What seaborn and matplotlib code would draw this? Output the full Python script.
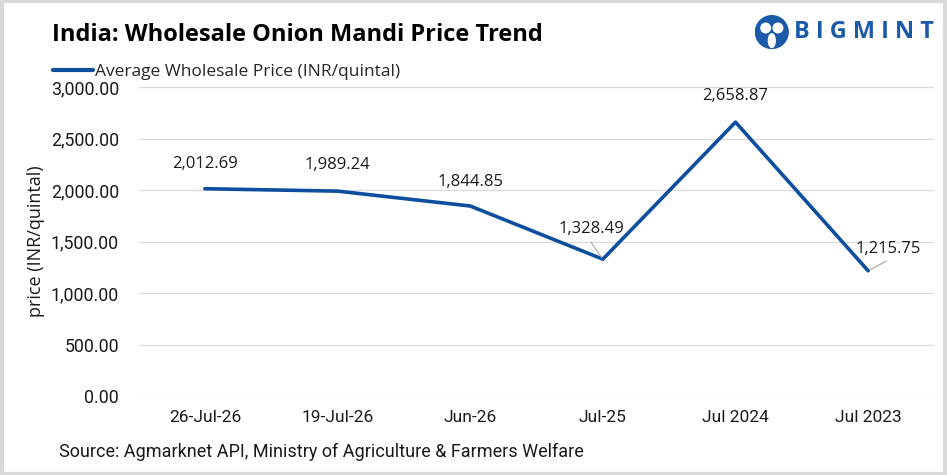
import pandas as pd
import matplotlib.pyplot as plt
import seaborn as sns
from matplotlib.patches import Rectangle, Circle, Ellipse

# chart data
periods = ["26-Jul-26", "19-Jul-26", "Jun-26", "Jul-25", "Jul 2024", "Jul 2023"]
prices = [2012.69, 1989.24, 1844.85, 1328.49, 2658.87, 1215.75]
y_ticks = [0, 500, 1000, 1500, 2000, 2500, 3000]

df = pd.DataFrame({"period": periods, "price": prices})

blue = "#0d4e9e"
grid_gray = "#d9d9d9"

sns.set_theme(style="white")
plt.rcParams["font.family"] = ["Open Sans", "DejaVu Sans"]

fig = plt.figure(figsize=(9.47, 4.75), dpi=100)
ax = fig.add_axes([0.1463, 0.1663, 0.8405, 0.6505])

sns.lineplot(data=df, x="period", y="price", ax=ax, color=blue, linewidth=2.6,
             sort=False, label="Average Wholesale Price (INR/quintal)")

ax.set_xlim(-0.5, len(periods) - 0.5)
ax.set_ylim(0, 3000)
ax.set_yticks(y_ticks)
ax.set_yticklabels([f"{v:,.2f}" for v in y_ticks])
ax.yaxis.grid(True, color=grid_gray, linewidth=0.9)
ax.xaxis.grid(False)
for s in ax.spines.values():
    s.set_visible(False)
ax.tick_params(axis="both", length=0, colors="#1a1a1a")
ax.tick_params(axis="y", pad=14, labelsize=12.8)
ax.tick_params(axis="x", pad=10, labelsize=12.5)
for lab in ax.get_xticklabels() + ax.get_yticklabels():
    lab.set_family("Roboto")
ax.set_xlabel("")
ax.set_ylabel("price (INR/quintal)", fontsize=13, color="#1a1a1a", labelpad=4, family="Open Sans")

# data labels (offsets in points from each point, label centred)
offsets = [(0, 18), (0, 18.7), (0, 17.3), (-8, 21.6), (0, 18.7), (14.4, 15.8)]
for i, (v, off) in enumerate(zip(prices, offsets)):
    ax.annotate(f"{v:,.2f}", (i, v), xytext=off, textcoords="offset points",
                ha="center", va="center", fontsize=12, color="#1a1a1a")
# leader lines for the two shifted labels
ax.annotate("", (3, prices[3]), xytext=(-8.6, 12.2), textcoords="offset points",
            arrowprops=dict(arrowstyle="-", color="#a6a6a6", lw=0.8, shrinkA=0, shrinkB=1.5))
ax.annotate("", (5, prices[5]), xytext=(13, 7), textcoords="offset points",
            arrowprops=dict(arrowstyle="-", color="#a6a6a6", lw=0.8, shrinkA=0, shrinkB=1.5))

# legend at top left
leg = ax.legend(loc="lower left", bbox_to_anchor=(-0.118, 0.995), frameon=False,
                fontsize=12.5, handlelength=2.3, handletextpad=0.1, borderaxespad=0.1)
for h in leg.get_lines():
    h.set_linewidth(3)

# title
fig.text(0.055, 0.926, "India: Wholesale Onion Mandi Price Trend", fontsize=17,
         fontweight="bold", color="black", ha="left", va="center")

# source
fig.text(0.062, 0.048, "Source: Agmarknet API, Ministry of Agriculture & Farmers Welfare",
         fontsize=13, color="#1a1a1a", ha="left", va="center", family="Roboto")

# logo
logo = fig.add_axes([0.797, 0.895, 0.036, 0.075])
logo.set_xlim(0, 1)
logo.set_ylim(0, 1)
logo.set_aspect("equal")
logo.axis("off")
logo.add_patch(Circle((0.5, 0.5), 0.48, color="#1a5aa8"))
logo.add_patch(Circle((0.32, 0.62), 0.14, color="white"))
logo.add_patch(Circle((0.68, 0.62), 0.14, color="white"))
logo.add_patch(Ellipse((0.5, 0.25), 0.2, 0.4, color="white"))
fig.text(0.838, 0.932, "B I G M I N T", fontsize=16.8, fontweight="bold",
         color="#1a5aa8", ha="left", va="center")

# light frame around the picture
fig.patches.append(Rectangle((0.002, 0.003), 0.996, 0.994, transform=fig.transFigure,
                             fill=False, edgecolor=grid_gray, linewidth=3))

fig.savefig("out.png", dpi=100)
